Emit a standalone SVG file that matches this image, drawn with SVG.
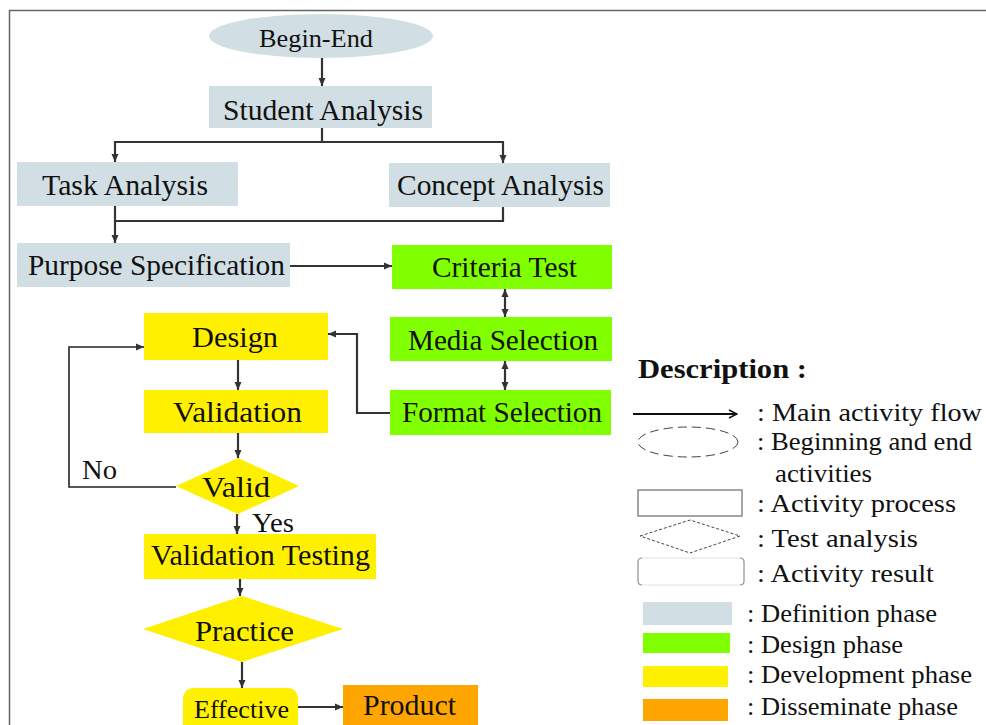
<svg xmlns="http://www.w3.org/2000/svg" width="986" height="725" viewBox="0 0 986 725">
<style>
.t{font-family:"Liberation Serif","Times New Roman",serif;font-size:30px;fill:#111;}
.l{font-family:"Liberation Serif","Times New Roman",serif;font-size:25px;fill:#111;}
.def{fill:#d1dfe4;}
.des{fill:#80ff00;}
.dev{fill:#fff000;}
.dis{fill:#ffa500;}
.c{fill:none;stroke:#333;stroke-width:2.2;}
</style>
<defs>
<marker id="ah" viewBox="0 0 8 8" refX="8" refY="4" markerWidth="8" markerHeight="8" markerUnits="userSpaceOnUse" orient="auto-start-reverse">
<path d="M0,0.5 L8,4 L0,7.5 z" fill="#333"/>
</marker>
<marker id="oh" viewBox="0 0 10 10" refX="9" refY="5" markerWidth="10" markerHeight="10" markerUnits="userSpaceOnUse" orient="auto">
<path d="M1,1 L9,5 L1,9" fill="none" stroke="#111" stroke-width="1.5"/>
</marker>
</defs>
<rect width="986" height="725" fill="#fff"/>
<path d="M9.5,725 L9.5,10.5 L986,10.5" fill="none" stroke="#666" stroke-width="1.5"/>

<g id="connectors">
<path class="c" d="M322,58 L322,86" marker-end="url(#ah)"/>
<path class="c" d="M322,128 L322,142 L115,142 L115,162" marker-end="url(#ah)"/>
<path class="c" d="M322,142 L503,142 L503,163" marker-end="url(#ah)"/>
<path class="c" d="M115,206 L115,243" marker-end="url(#ah)"/>
<path class="c" d="M503,207 L503,221 L115,221"/>
<path class="c" d="M290,266 L392,266" marker-end="url(#ah)"/>
<path class="c" d="M505,289 L505,317" marker-start="url(#ah)" marker-end="url(#ah)"/>
<path class="c" d="M505,361 L505,390" marker-start="url(#ah)" marker-end="url(#ah)"/>
<path class="c" d="M390,413 L357,413 L357,334 L328,334" marker-end="url(#ah)"/>
<path class="c" d="M238,360 L238,390" marker-end="url(#ah)"/>
<path class="c" d="M238,433 L238,458" marker-end="url(#ah)"/>
<path class="c" d="M176,487 L69,487 L69,347 L144,347" marker-end="url(#ah)" style="stroke:#222;stroke-width:1.6"/>
<path class="c" d="M237,514 L237,534" marker-end="url(#ah)"/>
<path class="c" d="M240,579 L240,596" marker-end="url(#ah)"/>
<path class="c" d="M242,662 L242,688" marker-end="url(#ah)"/>
<path class="c" d="M298,707 L343,707" marker-end="url(#ah)"/>
<text class="t" x="82" y="479" textLength="35" lengthAdjust="spacingAndGlyphs" style="font-size:27px">No</text>
<text class="t" x="252" y="532" textLength="42" lengthAdjust="spacingAndGlyphs" style="font-size:27px">Yes</text>
</g>

<g id="begin-end">
<ellipse class="def" cx="321" cy="36" rx="112" ry="22"/>
<text class="t" x="259" y="47" textLength="114" lengthAdjust="spacingAndGlyphs" style="font-size:25px">Begin-End</text>
</g>
<g id="student-analysis">
<rect class="def" x="209" y="86" width="223" height="42"/>
<text class="t" x="223" y="120" textLength="200" lengthAdjust="spacingAndGlyphs">Student Analysis</text>
</g>
<g id="task-analysis">
<rect class="def" x="17" y="162" width="221" height="44"/>
<text class="t" x="42" y="195" textLength="166" lengthAdjust="spacingAndGlyphs">Task Analysis</text>
</g>
<g id="concept-analysis">
<rect class="def" x="389" y="163" width="221" height="44"/>
<text class="t" x="397" y="195" textLength="207" lengthAdjust="spacingAndGlyphs">Concept Analysis</text>
</g>
<g id="purpose-specification">
<rect class="def" x="17" y="243" width="273" height="44"/>
<text class="t" x="28" y="275" textLength="257" lengthAdjust="spacingAndGlyphs">Purpose Specification</text>
</g>
<g id="criteria-test">
<rect class="des" x="392" y="245" width="220" height="44"/>
<text class="t" x="432" y="277" textLength="145" lengthAdjust="spacingAndGlyphs">Criteria Test</text>
</g>
<g id="media-selection">
<rect class="des" x="390" y="317" width="222" height="44"/>
<text class="t" x="408" y="350" textLength="190" lengthAdjust="spacingAndGlyphs">Media Selection</text>
</g>
<g id="format-selection">
<rect class="des" x="390" y="390" width="221" height="45"/>
<text class="t" x="402" y="422" textLength="200" lengthAdjust="spacingAndGlyphs">Format Selection</text>
</g>
<g id="design">
<rect class="dev" x="144" y="313" width="184" height="47"/>
<text class="t" x="192" y="347" textLength="86" lengthAdjust="spacingAndGlyphs">Design</text>
</g>
<g id="validation">
<rect class="dev" x="144" y="390" width="184" height="43"/>
<text class="t" x="173" y="422" textLength="129" lengthAdjust="spacingAndGlyphs">Validation</text>
</g>
<g id="valid">
<polygon class="dev" points="238,458 299,486 238,514 176,486"/>
<text class="t" x="202" y="497" textLength="68" lengthAdjust="spacingAndGlyphs">Valid</text>
</g>
<g id="validation-testing">
<rect class="dev" x="144" y="534" width="232" height="45"/>
<text class="t" x="151" y="565" textLength="219" lengthAdjust="spacingAndGlyphs">Validation Testing</text>
</g>
<g id="practice">
<polygon class="dev" points="242,596 343,629 242,662 143,629"/>
<text class="t" x="195" y="641" textLength="99" lengthAdjust="spacingAndGlyphs">Practice</text>
</g>
<g id="effective">
<rect class="dev" x="183" y="688" width="115" height="50" rx="10"/>
<text class="t" x="194" y="718" textLength="95" lengthAdjust="spacingAndGlyphs" style="font-size:25px">Effective</text>
</g>
<g id="product">
<rect class="dis" x="343" y="685" width="135" height="50"/>
<text class="t" x="363" y="715" textLength="93" lengthAdjust="spacingAndGlyphs">Product</text>
</g>

<g id="legend">
<text class="l" x="638" y="378" textLength="169" lengthAdjust="spacingAndGlyphs" style="font-weight:bold;font-size:27px">Description :</text>
<line x1="633" y1="414" x2="737" y2="414" stroke="#111" stroke-width="1.8" marker-end="url(#oh)"/>
<text class="l" x="757" y="421" textLength="225" lengthAdjust="spacingAndGlyphs">: Main activity flow</text>
<ellipse cx="688" cy="442" rx="50" ry="15" fill="none" stroke="#444" stroke-width="1" stroke-dasharray="9,5"/>
<text class="l" x="757" y="450" textLength="215" lengthAdjust="spacingAndGlyphs">: Beginning and end</text>
<text class="l" x="775" y="482" textLength="97" lengthAdjust="spacingAndGlyphs">activities</text>
<rect x="638" y="490" width="104" height="26" fill="none" stroke="#888" stroke-width="1.5"/>
<text class="l" x="757" y="512" textLength="199" lengthAdjust="spacingAndGlyphs">: Activity process</text>
<polygon points="640,536 690,520 740,536 690,553" fill="none" stroke="#444" stroke-width="1" stroke-dasharray="3,2"/>
<text class="l" x="757" y="547" textLength="161" lengthAdjust="spacingAndGlyphs">: Test analysis</text>
<rect x="638" y="558" width="106" height="27" rx="4" fill="none" stroke="#e2e2e2" stroke-width="1"/>
<path d="M642,558 Q638,558 638,562 L638,581 Q638,585 642,585 M740,558 Q744,558 744,562 L744,581 Q744,585 740,585" fill="none" stroke="#999" stroke-width="1.2"/>
<text class="l" x="757" y="582" textLength="177" lengthAdjust="spacingAndGlyphs">: Activity result</text>
<rect class="def" x="643" y="602" width="89" height="23"/>
<text class="l" x="747" y="622" textLength="190" lengthAdjust="spacingAndGlyphs">: Definition phase</text>
<rect class="des" x="643" y="633" width="87" height="20"/>
<text class="l" x="747" y="653" textLength="156" lengthAdjust="spacingAndGlyphs">: Design phase</text>
<rect class="dev" x="643" y="666" width="85" height="21"/>
<text class="l" x="747" y="683" textLength="225" lengthAdjust="spacingAndGlyphs">: Development phase</text>
<rect class="dis" x="643" y="699" width="85" height="22"/>
<text class="l" x="747" y="715" textLength="211" lengthAdjust="spacingAndGlyphs">: Disseminate phase</text>
</g>
</svg>
